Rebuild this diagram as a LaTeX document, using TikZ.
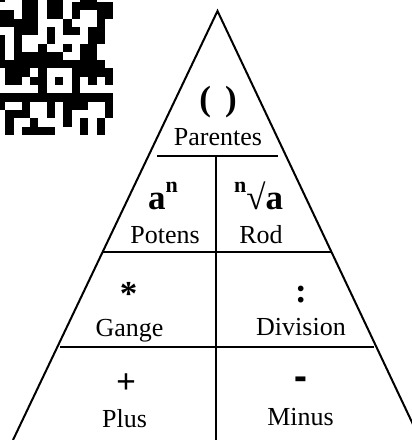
\documentclass[tikz,border=0pt]{standalone}
\usepackage{fontspec}
\setmainfont{Liberation Serif}
\begin{document}
\begin{tikzpicture}[x=1pt,y=-1pt,
  edge/.style={line width=2pt},
  lbl/.style={font=\fontsize{26}{26}\selectfont, anchor=base, inner sep=0pt},
  sym/.style={font=\fontsize{35}{35}\selectfont\bfseries, anchor=base, inner sep=0pt},
  qr/.style={fill=black}]
\useasboundingbox (0,0) rectangle (412,440);
\begin{scope}
\clip (0,0) rectangle (412,440);
% QR code fragment
\foreach \j/\cols in {
  0/{0,3,4,6,7,10,11},
  1/{3,4,6,7,9,10,11,12,13},
  2/{0,1,3,4,6,7,9,12,13},
  3/{0,1,2,3,4,8,12},
  4/{2,3,4,6,8,9,11,12},
  5/{0,2,6,11,12},
  6/{0,2,5,8,10,11},
  7/{0,2,3,4,5,6,7,10,11},
  8/{0,1,2,3,4,5,6,7,8,9,10,11,12},
  9/{1,2,3,5,9,10,11,12,13},
  10/{1,2,4,5,7,9,11,13},
  11/{5,9},
  12/{0,1,2,3,4,5,6,7,8,9,10,11,12,13},
  13/{0,3,6,8,9,10,13},
  14/{1,2,3,6,8,13},
  15/{1,4,8,10,12},
  16/{1,3,4,5,6,10,12}}{
  \foreach \i in \cols {
    \fill[qr] ({-3.1+8.3*\i},{-6.3+8.3*\j}) rectangle ({5.25+8.3*\i},{2.05+8.3*\j});
  }
}
% triangle
\coordinate (apex) at (217.5,11);
\coordinate (bl) at (13,440);
\coordinate (br) at (420.4,440);
\draw[edge] (bl) -- (apex) -- (br);
\end{scope}
% inner lines
\coordinate (h1l) at (157,156); \coordinate (h1r) at (278,156);
\coordinate (h2l) at (103,252); \coordinate (h2r) at (331,252);
\coordinate (h3l) at (60,347);  \coordinate (h3r) at (374,347);
\coordinate (vt) at (216,156);  \coordinate (vb) at (216,440);
\draw[edge] (h1l) -- (h1r);
\draw[edge] (h2l) -- (h2r);
\draw[edge] (h3l) -- (h3r);
\draw[edge] (vt) -- (vb);
% texts
\node[sym] (par) at (218,110) {(\hspace{14pt})};
\node[lbl] (parentes) at (218,145) {Parentes};
\node[sym, anchor=base west] (pow) at (148,209) {a\raisebox{17pt}{\fontsize{22}{22}\selectfont n}};
\node[sym, anchor=base west] (root) at (234,209) {\raisebox{17pt}{\fontsize{22}{22}\selectfont n}√a};
\node[lbl] (potens) at (165,243) {Potens};
\node[lbl] (rod) at (261,243) {Rod};
\node[sym] (mul) at (128.5,305) {*};
\node[sym] (div) at (301,302) {:};
\node[lbl] (gange) at (129.5,336) {Gange};
\node[lbl] (division) at (301,335) {Division};
\node[sym] (add) at (126,393) {+};
\node[sym] (sub) at (301,392) {\scalebox{1.1}[1.6]{-}};
\node[lbl] (plus) at (124.5,427) {Plus};
\node[lbl] (minus) at (300.5,425) {Minus};
\end{tikzpicture}
\end{document}
